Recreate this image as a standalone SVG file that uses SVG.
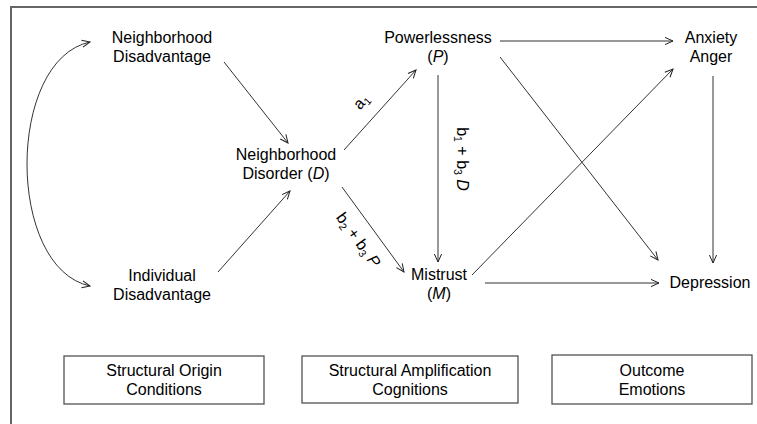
<svg xmlns="http://www.w3.org/2000/svg" width="757" height="424" viewBox="0 0 757 424">
<defs>
<marker id="arr" markerUnits="userSpaceOnUse" markerWidth="12" markerHeight="12" viewBox="-10 -6 12 12" refX="0" refY="0" orient="auto-start-reverse">
<path d="M-8,-3.6 L0,0 L-8,3.6" fill="none" stroke="#222" stroke-width="1"/>
</marker>
<style>
text{font-family:"Liberation Sans",Arial,sans-serif;font-size:16px;fill:#000;text-anchor:middle}
.c{fill:none;stroke:#333;stroke-width:1;marker-end:url(#arr)}
.box{fill:#fff;stroke:#444;stroke-width:1.2}
.lab{font-size:16px}
.sub{font-size:10.5px}
</style>
</defs>
<rect width="757" height="424" fill="#fff"/>
<path d="M11,424 L11,7 L757,7" fill="none" stroke="#666" stroke-width="2"/>

<g id="connectors">
<path class="c" d="M90,42 C6,60 6,268 90,286" style="marker-start:url(#arr)"/>
<line class="c" x1="224" y1="62" x2="288" y2="143"/>
<line class="c" x1="218" y1="272" x2="290" y2="191"/>
<line class="c" x1="344" y1="150" x2="416" y2="70"/>
<line class="c" x1="342" y1="187" x2="404" y2="272"/>
<line class="c" x1="438" y1="75" x2="438" y2="262"/>
<line class="c" x1="500" y1="41" x2="673" y2="41"/>
<line class="c" x1="500" y1="57" x2="658" y2="260"/>
<line class="c" x1="472" y1="275" x2="673" y2="69"/>
<line class="c" x1="485" y1="283" x2="659" y2="283"/>
<line class="c" x1="713" y1="76" x2="713" y2="263"/>
<text class="lab" transform="translate(365,105) rotate(-48)">a<tspan class="sub" dy="3">1</tspan></text>
<text class="lab" transform="translate(457,159) rotate(90)">b<tspan class="sub" dy="3">1</tspan><tspan dy="-3"> + b</tspan><tspan class="sub" dy="3">3</tspan><tspan dy="-3" font-style="italic"> D</tspan></text>
<text class="lab" transform="translate(354,243) rotate(54)">b<tspan class="sub" dy="3">2</tspan><tspan dy="-3"> + b</tspan><tspan class="sub" dy="3">3</tspan><tspan dy="-3" font-style="italic"> P</tspan></text>
</g>

<g id="neighborhood-disadvantage">
<text x="162" y="43">Neighborhood</text>
<text x="162" y="62">Disadvantage</text>
</g>
<g id="individual-disadvantage">
<text x="162" y="281">Individual</text>
<text x="162" y="300">Disadvantage</text>
</g>
<g id="neighborhood-disorder">
<text x="286" y="160">Neighborhood</text>
<text x="286" y="179">Disorder (<tspan font-style="italic">D</tspan>)</text>
</g>
<g id="powerlessness">
<text x="438" y="43">Powerlessness</text>
<text x="438" y="62">(<tspan font-style="italic">P</tspan>)</text>
</g>
<g id="mistrust">
<text x="439" y="280">Mistrust</text>
<text x="439" y="299">(<tspan font-style="italic">M</tspan>)</text>
</g>
<g id="anxiety-anger">
<text x="711" y="43">Anxiety</text>
<text x="711" y="62">Anger</text>
</g>
<g id="depression">
<text x="710" y="288">Depression</text>
</g>

<g id="structural-origin">
<rect class="box" x="64" y="356" width="200" height="48"/>
<text x="164" y="376">Structural Origin</text>
<text x="164" y="395">Conditions</text>
</g>
<g id="structural-amplification">
<rect class="box" x="302" y="356" width="216" height="47"/>
<text x="410" y="376">Structural Amplification</text>
<text x="410" y="395">Cognitions</text>
</g>
<g id="outcome">
<rect class="box" x="552" y="355" width="200" height="49"/>
<text x="652" y="376">Outcome</text>
<text x="652" y="395">Emotions</text>
</g>
</svg>
